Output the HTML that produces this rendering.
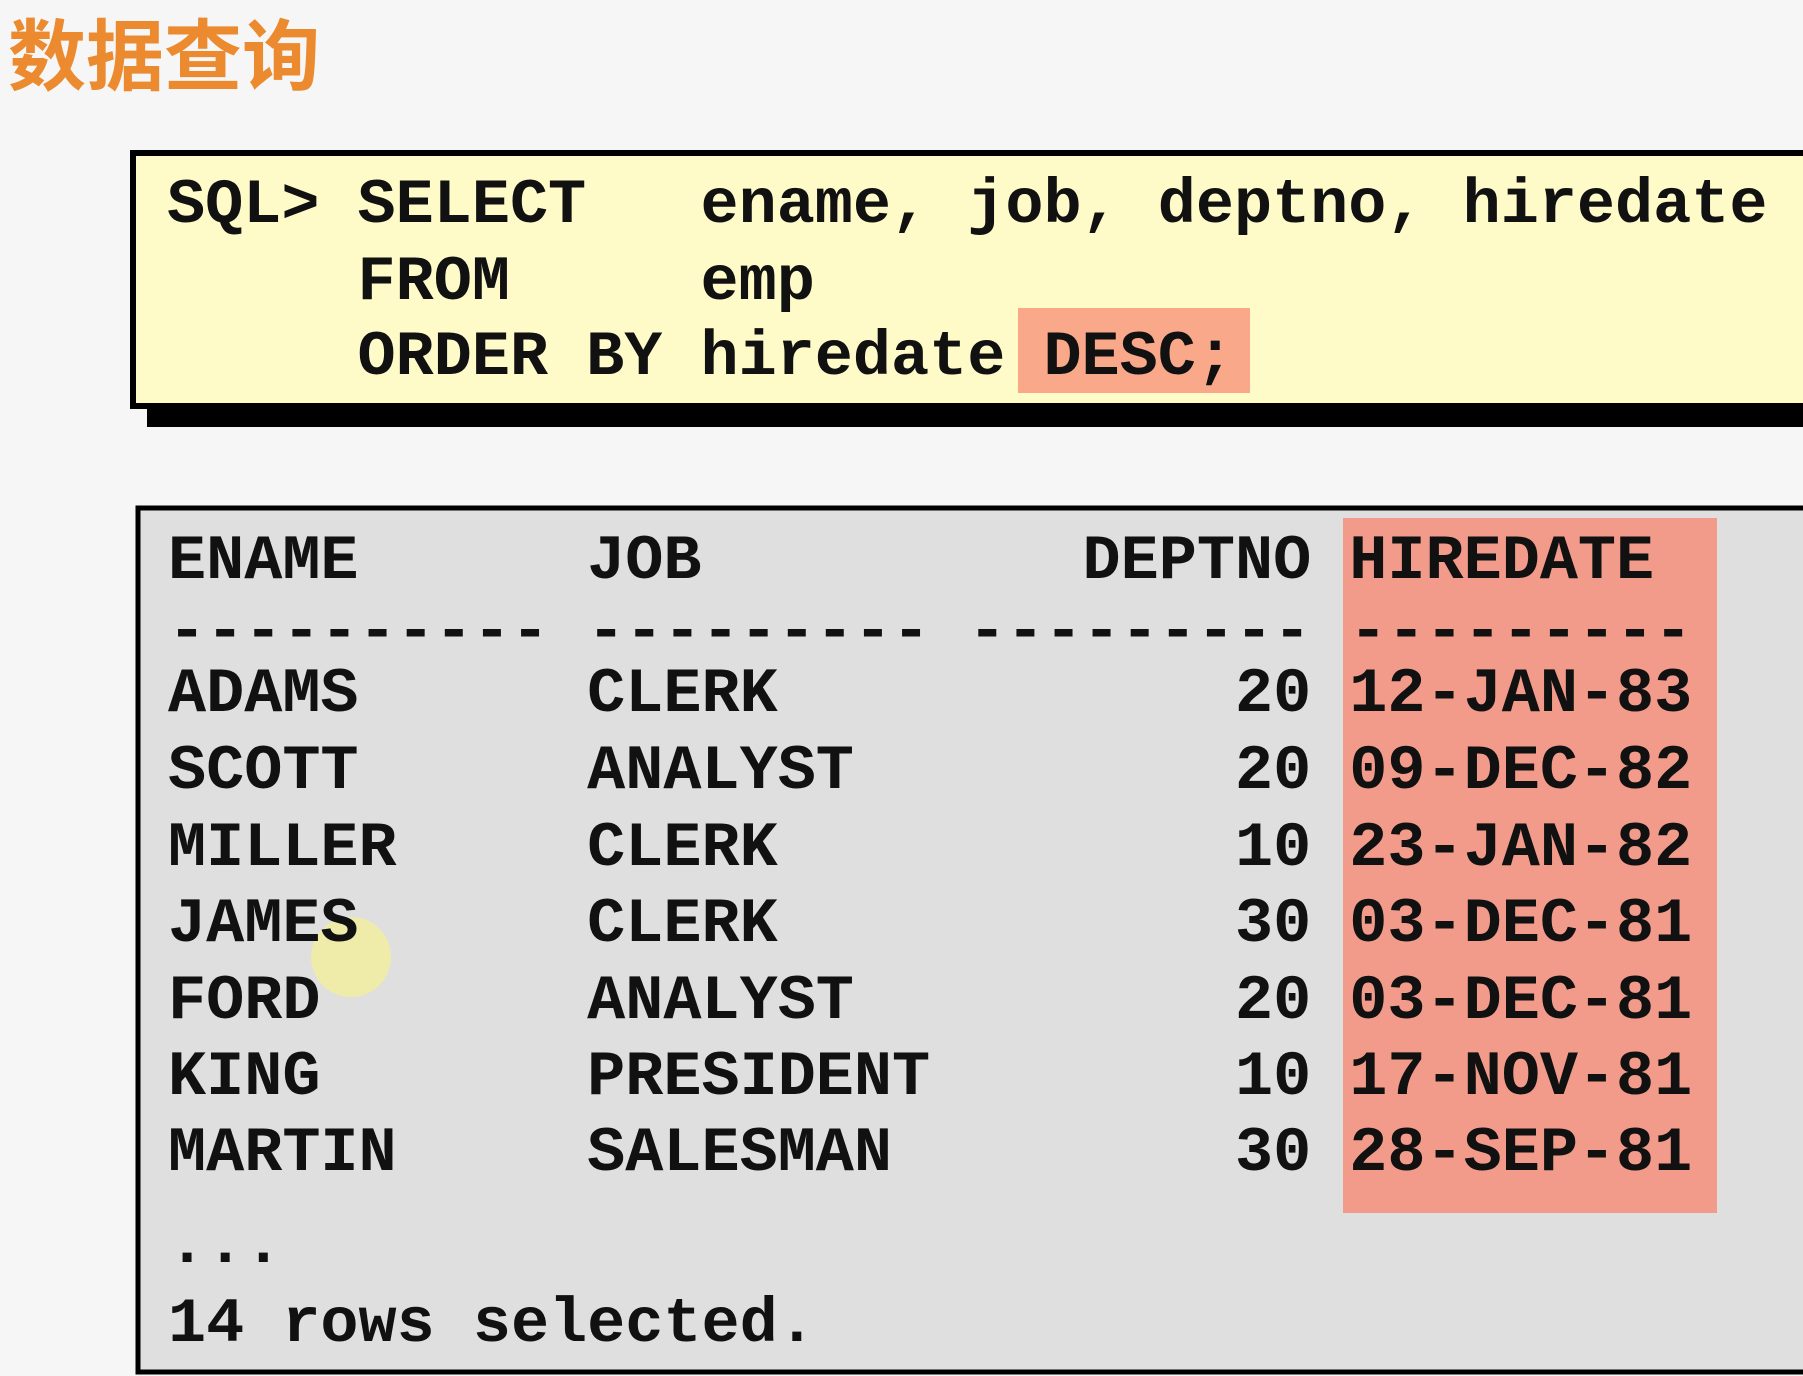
<!DOCTYPE html>
<html><head><meta charset="utf-8"><style>
html,body{margin:0;padding:0;background:#f6f6f6;}
svg{display:block}
text{font-family:"Liberation Mono",monospace;font-weight:bold;font-size:63.5px;fill:#111;}
</style></head><body>
<svg width="1803" height="1376" viewBox="0 0 1803 1376">
<rect x="0" y="0" width="1803" height="1376" fill="#f6f6f6"/>
<text x="8" y="84" style="font-family:'Liberation Sans','Noto Sans CJK SC',sans-serif;font-size:78px;font-weight:bold;fill:#ec8a30">数据查询</text>

<g>
<rect x="147" y="405" width="1680" height="22" fill="#000"/>
<rect x="133" y="153" width="1700" height="253" fill="#fefbc9" stroke="#000" stroke-width="6"/>
<rect x="1018" y="308" width="232" height="85" fill="#f9a98a"/>
<text xml:space="preserve" x="167" y="222">SQL&gt; SELECT   ename, job, deptno, hiredate</text>
<text xml:space="preserve" x="167" y="299">     FROM     emp</text>
<text xml:space="preserve" x="167" y="374">     ORDER BY hiredate DESC;</text>
</g>

<g>
<rect x="138" y="508" width="1700" height="864" fill="#dfdfdf" stroke="#000" stroke-width="5"/>
<rect x="1343" y="518" width="374" height="695" fill="#f29b8b"/>
<circle cx="351" cy="957" r="40" fill="#f2ee9a" opacity="0.8"/>
<g id="rows"></g>
</g>
</svg>
<script>
const lines = [
"ENAME      JOB          DEPTNO HIREDATE",
"---------- --------- --------- ---------",
"ADAMS      CLERK            20 12-JAN-83",
"SCOTT      ANALYST          20 09-DEC-82",
"MILLER     CLERK            10 23-JAN-82",
"JAMES      CLERK            30 03-DEC-81",
"FORD       ANALYST          20 03-DEC-81",
"KING       PRESIDENT        10 17-NOV-81",
"MARTIN     SALESMAN         30 28-SEP-81",
"...",
"14 rows selected."
];
const baselines = [578,649,711,788,865,941,1018,1094,1170,1262,1341];
const g = document.getElementById('rows');
const NS = "http://www.w3.org/2000/svg";
lines.forEach((s,i)=>{
  const t = document.createElementNS(NS,'text');
  t.setAttribute('x', 168);
  t.setAttribute('y', baselines[i]);
  t.setAttributeNS("http://www.w3.org/XML/1998/namespace",'xml:space','preserve');
  t.textContent = s;
  
  
  g.appendChild(t);
});
</script>
</body></html>
